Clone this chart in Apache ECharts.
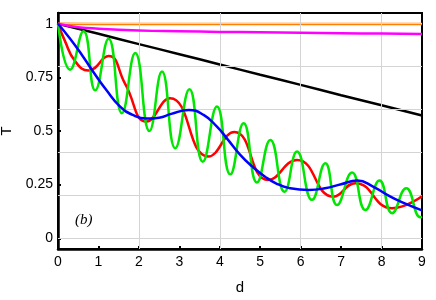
<!DOCTYPE html>
<html>
<head>
<meta charset="utf-8">
<script src="https://cdn.jsdelivr.net/npm/echarts@6/dist/echarts.min.js"></script>
<style>html,body{margin:0;padding:0;background:#fff;}#c{width:436px;height:300px;}</style>
</head>
<body>
<div id="c"></div>
<script>
// Data: [d, T]
const orangeData = [[0,1],[1,0.999],[2,0.999],[3,0.999],[4,0.999],[5,0.999],[6,0.999],[7,0.999],[8,0.999],[9,0.999]];
const magentaData = [[0,1],[0.5,0.984],[1,0.977],[2,0.969],[3,0.965],[4,0.962],[5,0.960],[6,0.958],[7,0.956],[8,0.954],[9,0.952]];
const blackData = [[0,1],[1,0.953],[2,0.905],[3,0.858],[4,0.81],[5,0.762],[6,0.715],[7,0.667],[8,0.62],[9,0.572]];
const redData = [[0,1],[0.17,0.92],[0.42,0.826],[0.75,0.782],[1.25,0.849],[1.66,0.72],[2.19,0.544],[2.77,0.653],[3.72,0.381],[4.36,0.495],[5.2,0.272],[5.91,0.365],[6.81,0.194],[7.35,0.257],[8.26,0.14],[9,0.196]];
const greenData = [[0,1],[0.30,0.786],[0.63,0.965],[0.92,0.69],[1.25,0.93],[1.58,0.583],[1.91,0.863],[2.26,0.50],[2.57,0.777],[2.9,0.42],[3.25,0.695],[3.58,0.357],[3.93,0.614],[4.26,0.298],[4.59,0.536],[4.92,0.26],[5.25,0.458],[5.6,0.217],[5.91,0.404],[6.28,0.179],[6.61,0.35],[6.9,0.155],[7.27,0.306],[7.6,0.132],[7.95,0.269],[8.26,0.117],[8.61,0.233],[8.96,0.098],[9,0.1]];
const blueData = [[0,1],[0.3,0.93],[0.6,0.852],[0.9,0.768],[1.2,0.69],[1.53,0.615],[1.85,0.575],[2.19,0.558],[2.5,0.562],[2.8,0.58],[3.23,0.598],[3.6,0.575],[3.93,0.52],[4.2,0.46],[4.5,0.39],[4.8,0.335],[5.12,0.287],[5.4,0.255],[5.7,0.235],[6.2,0.225],[6.6,0.233],[7.0,0.252],[7.4,0.269],[7.8,0.24],[8.14,0.202],[8.5,0.168],[9,0.13]];
const yTickValues = [0,0.25,0.5,0.75,1];
const xGridValues = [2,4,6,8];
const yGridValues = [0,0.2,0.4,0.6,0.8,1];

const font = 'Liberation Sans';
const chart = echarts.init(document.getElementById('c'), null, {renderer:'canvas'});
function curve(data, color, z){
  return {type:'line', data:data, smooth:0.5, showSymbol:false, symbol:'none', z:z,
    lineStyle:{color:color, width:2.5}, silent:true, animation:false};
}
const gridLines = [].concat(
  xGridValues.map(v => ({xAxis:v})),
  yGridValues.map(v => ({yAxis:v}))
);
chart.setOption({
  animation:false,
  backgroundColor:'#fff',
  grid:{left:58,right:14,top:13,bottom:51,show:true,borderColor:'#000',borderWidth:2,containLabel:false,outerBoundsMode:'none'},
  xAxis:{type:'value',min:0,max:9,interval:1,
    name:'d',nameLocation:'middle',nameGap:31,nameTextStyle:{fontFamily:font,fontSize:15,color:'#000'},
    axisLine:{show:true,onZero:false,lineStyle:{color:'#000',width:2.5}},
    axisTick:{show:true,inside:true,length:3,lineStyle:{color:'#000',width:2}},
    axisLabel:{fontFamily:font,fontSize:14,color:'#000',margin:6},
    splitLine:{show:false}},
  yAxis:{type:'value',min:-0.05,max:1.05,
    name:'T',nameLocation:'middle',nameGap:36,nameRotate:90,nameTextStyle:{fontFamily:font,fontSize:15,color:'#000'},
    axisLine:{show:true,onZero:false,lineStyle:{color:'#000',width:2.5}},
    axisTick:{show:true,inside:true,length:3,lineStyle:{color:'#000',width:2},customValues:yTickValues},
    axisLabel:{fontFamily:font,fontSize:14,color:'#000',margin:5,customValues:yTickValues},
    splitLine:{show:false}},
  graphic:[{type:'text',left:75,top:213,style:{text:'(b)',font:'italic 15px "Liberation Serif"',fill:'#000'}}],
  series:[
    {type:'line',data:[],z:1,silent:true,
      markLine:{silent:true,symbol:['none','none'],label:{show:false},animation:false,
        lineStyle:{color:'#d4d4d4',width:1,type:'solid'},data:gridLines}},
    curve(blackData,'#000000',3),
    curve(orangeData,'#ff7f00',4),
    curve(magentaData,'#ff00ff',5),
    curve(redData,'#ff0000',6),
    curve(greenData,'#00e600',7),
    curve(blueData,'#0000ff',8)
  ]
});
</script>
</body>
</html>
